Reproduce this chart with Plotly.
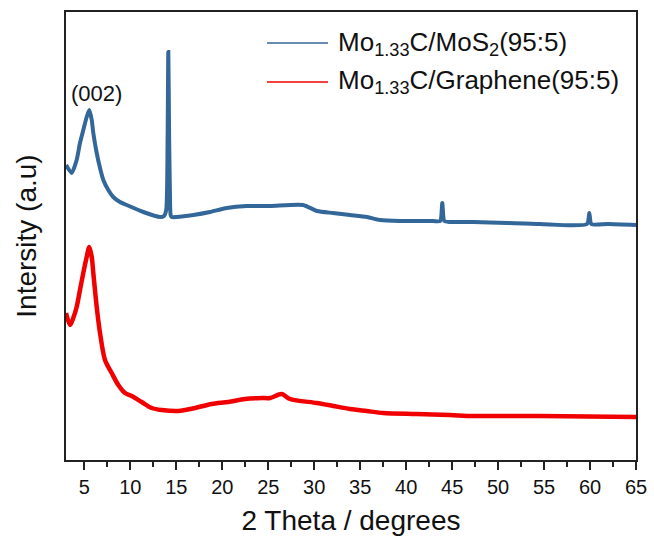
import plotly.graph_objects as go

# XRD patterns: 2-theta (degrees) vs. intensity (a.u., offset for stacking)
mos2_theta = [3.00, 3.62, 4.16, 4.52, 4.88, 5.25, 5.53, 5.80, 5.97, 6.34, 6.70, 7.06,
              7.60, 8.14, 8.87, 9.60, 11.41, 13.22, 13.66, 13.90, 14.05, 14.13, 14.22,
              14.30, 14.38, 14.50, 15.04, 16.85, 18.66, 20.48, 22.65, 25.19, 28.78,
              30.30, 32.04, 33.89, 35.74, 37.15, 39.33, 42.92, 43.70, 43.93, 44.15,
              44.77, 47.27, 50.97, 54.55, 59.67, 59.92, 60.15, 61.95, 65.00]
mos2_int = [295, 287, 300, 317, 330, 343, 350, 340, 327, 307, 292, 280,
            270, 263, 258, 255, 248, 243, 244, 250, 320, 408, 320,
            270, 245, 243, 243, 245, 248, 252, 254, 254, 255,
            249, 247, 245, 243, 240, 239, 239, 239, 257, 239,
            238, 238, 237, 236, 236, 247, 236, 236, 235]

gr_theta = [3.00, 3.44, 3.79, 4.16, 4.52, 4.88, 5.25, 5.53, 5.80, 5.97, 6.34, 6.70,
            7.24, 7.97, 8.69, 9.42, 10.15, 11.23, 12.32, 13.41, 15.21, 17.03, 18.85,
            20.65, 22.47, 24.29, 25.19, 26.46, 27.36, 30.27, 32.07, 33.89, 35.71,
            37.51, 41.14, 44.77, 47.27, 54.55, 65.00]
gr_int = [147, 135, 142, 153, 170, 187, 203, 213, 203, 187, 153, 127,
          100, 87, 75, 67, 64, 58, 52, 50, 49, 52, 56,
          58, 61, 62, 62, 66, 61, 57, 54, 51, 49,
          47, 46, 45, 44, 44, 43]

series_names = ["Mo<sub>1.33</sub>C/MoS<sub>2</sub>(95:5)",
                "Mo<sub>1.33</sub>C/Graphene(95:5)"]
series_colors = ["#336699", "#F00000"]
x_ticks = list(range(5, 70, 5))

FONT = "Arial, Liberation Sans, sans-serif"

fig = go.Figure()
fig.add_trace(go.Scatter(x=mos2_theta, y=mos2_int, mode="lines",
                         line=dict(color=series_colors[0], width=4,
                                   shape="spline", smoothing=0.6),
                         name=series_names[0], showlegend=False))
fig.add_trace(go.Scatter(x=gr_theta, y=gr_int, mode="lines",
                         line=dict(color=series_colors[1], width=4.5,
                                   shape="spline", smoothing=0.8),
                         name=series_names[1], showlegend=False))

# Hand-placed legend: short line samples with labels
legend_y = [0.9308, 0.8438]
for name, color, ly in zip(series_names, series_colors, legend_y):
    fig.add_shape(type="line", xref="paper", yref="paper",
                  x0=0.3526, x1=0.4596, y0=ly, y1=ly,
                  line=dict(color=color, width=1.5))
    fig.add_annotation(xref="paper", yref="paper", x=0.4737, y=ly,
                       xanchor="left", yanchor="middle", showarrow=False,
                       text=name, font=dict(family=FONT, size=26, color="#111111"))

# Peak index label
fig.add_annotation(x=6.3, y=367, text="(002)", showarrow=False,
                   xanchor="center", yanchor="middle",
                   font=dict(family=FONT, size=22, color="#111111"))

fig.update_layout(
    width=654, height=537,
    margin=dict(l=66, r=18, t=12, b=77, autoexpand=False),
    paper_bgcolor="white", plot_bgcolor="white",
    font=dict(family=FONT, color="#111111"),
    showlegend=False,
)
fig.update_xaxes(
    range=[3, 65], tickvals=x_ticks, ticktext=[str(v) for v in x_ticks],
    ticks="outside", ticklen=8, tickwidth=1.5, tickcolor="#222222",
    minor=dict(ticks="outside", ticklen=5, tickwidth=1.5, tickcolor="#222222",
               tick0=2.5, dtick=5),
    showline=True, linecolor="#222222", linewidth=1.5, mirror=True,
    showgrid=False, zeroline=False, automargin=False,
    tickfont=dict(family=FONT, size=20, color="#111111"),
    title=dict(text="2 Theta / degrees", font=dict(family=FONT, size=28, color="#111111"),
               standoff=14),
)
fig.update_yaxes(
    range=[0, 448], showticklabels=False, ticks="",
    showline=True, linecolor="#222222", linewidth=1.5, mirror=True,
    showgrid=False, zeroline=False, automargin=False,
    title=dict(text="Intersity (a.u)", font=dict(family=FONT, size=28, color="#111111"),
               standoff=19),
)

fig.write_html("out.html")
